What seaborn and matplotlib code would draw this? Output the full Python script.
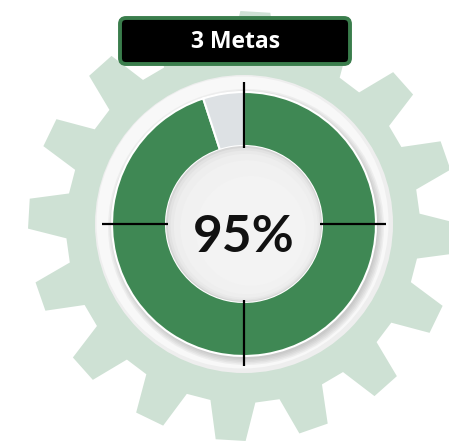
import numpy as np
import matplotlib

matplotlib.use("Agg")
import matplotlib.pyplot as plt
import seaborn as sns
from matplotlib.patches import Circle, FancyBboxPatch, Polygon

# data
TITLE = "3 Metas"
segment_labels = ["Cumprido", "Restante"]
segment_values = [95, 5]
segment_colors = ["#3f8854", "#dde1e4"]
center_label = f"{segment_values[0]}%"

W, H = 449, 441
GEAR_CENTER = (243, H - 226)
DONUT_CENTER = (244, H - 224)


def gear_points(cx, cy, r_out=215, r_root=177, teeth=16, offset=-93.3,
                tip_half=4.0, root_half=7.3):
    pts = []
    step = 360 / teeth
    for k in range(teeth):
        c = offset + k * step
        for ang, r in [(c - root_half, r_root), (c - tip_half, r_out),
                       (c + tip_half, r_out), (c + root_half, r_root)]:
            a = np.deg2rad(ang)
            pts.append((cx + r * np.cos(a), cy + r * np.sin(a)))
    return pts


def main() -> None:
    sns.set_theme(style="white")
    fig = plt.figure(figsize=(W / 100, H / 100), dpi=100)
    ax = fig.add_axes([0, 0, 1, 1])

    # gear background
    ax.add_patch(Polygon(gear_points(*GEAR_CENTER), closed=True,
                         facecolor="#cee1d4", edgecolor="none", zorder=1))

    cx, cy = DONUT_CENTER
    # white outer ring
    ax.add_patch(Circle((cx, cy), 149, facecolor="#eeeeee", edgecolor="none", zorder=3))
    ax.add_patch(Circle((cx - 1.5, cy + 1.5), 146, facecolor="#f8f8f8", edgecolor="none", zorder=3))
    # shadow under donut (lower right)
    for i in range(5):
        ax.add_patch(Circle((cx + 2, cy - 3), 132 + 1.5 * (4 - i), color="#6a6a6a",
                            alpha=0.07, lw=0, zorder=4))

    ax.pie(segment_values, colors=segment_colors, startangle=90, counterclock=False,
           radius=132, center=(cx, cy), labels=None, frame=True,
           wedgeprops=dict(width=54, edgecolor="white", linewidth=1.5, zorder=5))
    ax.set_xlim(0, W)
    ax.set_ylim(0, H)
    ax.set_aspect("equal")
    ax.axis("off")

    # center hole with inner shading
    ax.add_patch(Circle((cx, cy), 78, facecolor="#d6d6d6", edgecolor="none", zorder=6))
    for r, col in [(76.5, "#e2e2e2"), (74.5, "#e9e9e9"), (72, "#eeeeee"), (67, "#f1f1f1"),
                   (55, "#f3f3f3")]:
        ax.add_patch(Circle((cx + (78 - r) * 0.3, cy - (78 - r) * 0.3), r,
                            facecolor=col, edgecolor="none", zorder=6))

    # crosshair ticks
    for ang in [0, 90, 180, 270]:
        a = np.deg2rad(ang)
        r0, r1 = 76, 142
        ax.plot([cx + r0 * np.cos(a), cx + r1 * np.cos(a)],
                [cy + r0 * np.sin(a), cy + r1 * np.sin(a)],
                color="black", lw=1.6, solid_capstyle="butt", zorder=7)

    ax.text(cx - 0.5, H - 252, center_label, ha="center", va="baseline", fontsize=37,
            fontweight="bold", family=["Lato", "DejaVu Sans"], color="#111111", zorder=8)

    # title box
    ax.add_patch(FancyBboxPatch((120, H - 64), 230, 46,
                                boxstyle="round,pad=0,rounding_size=6",
                                facecolor="black", edgecolor="#3a7d4c", lw=2.8, zorder=9))
    ax.text(236, H - 48, TITLE, ha="center", va="baseline", fontsize=16.5,
            fontweight="bold", family=["Open Sans", "DejaVu Sans"], color="white", zorder=10)

    fig.savefig("out.png", dpi=100, facecolor="white")
    plt.close(fig)


if __name__ == "__main__":
    main()
